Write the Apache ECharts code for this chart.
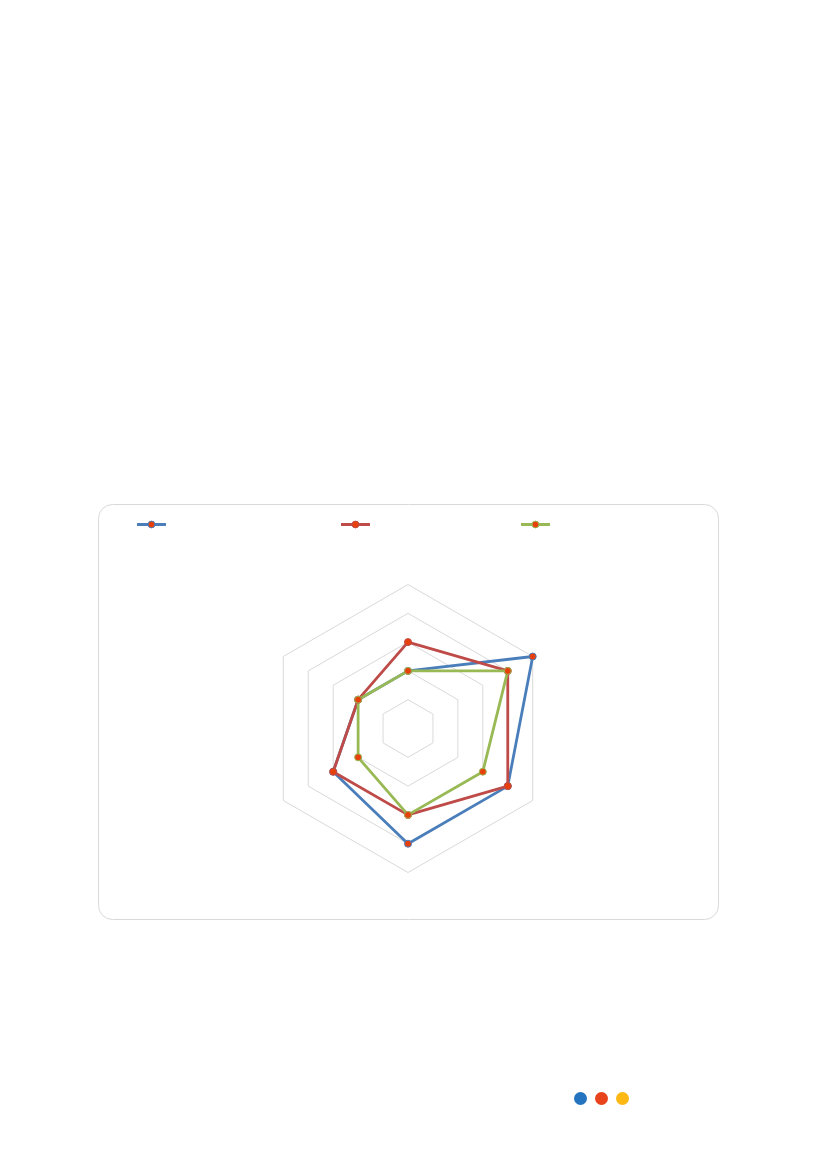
<!DOCTYPE html>
<html><head><meta charset="utf-8">
<script src="https://cdn.jsdelivr.net/npm/echarts@6/dist/echarts.min.js"></script>
<style>html,body{margin:0;padding:0;background:#fff}#c{width:827px;height:1169px}</style>
</head><body><div id="c"></div>
<script>
const indicators = ['A','B','C','D','E','F'];
const seriesNames = ['Series 1','Series 2','Series 3'];
const series1 = [2,2,3,4,4,5];
const series2 = [3,2,3,3,4,4];
const series3 = [2,2,2,3,3,4];
const seriesValues = [series1, series2, series3];
const lineColors = ['#4a7ebb','#be4b48','#98b954'];
const markerColor = '#e8400c';
const maxValue = 5;

function legendIcon(c){
  const svg = '<svg xmlns="http://www.w3.org/2000/svg" width="58" height="18" viewBox="0 0 29 9">'
    + '<line x1="0.5" y1="4.5" x2="28.5" y2="4.5" stroke="'+c+'" stroke-width="2.8" stroke-linecap="round"/>'
    + '<circle cx="14.5" cy="4.5" r="3.4" fill="'+markerColor+'" stroke="'+c+'" stroke-width="1"/></svg>';
  return 'image://data:image/svg+xml;charset=utf-8,' + encodeURIComponent(svg);
}

const chart = echarts.init(document.getElementById('c'), null, {renderer:'canvas'});
const legendLefts = [137, 341, 521];
chart.setOption({
  animation:false,
  backgroundColor:'#fff',
  graphic:[
    {type:'rect', shape:{x:98.5,y:504.5,width:620,height:415,r:14}, style:{fill:'none',stroke:'#d9d9d9',lineWidth:1}, z:-1},
    {type:'circle', shape:{cx:580.5,cy:1098.5,r:6.5}, style:{fill:'#2474bf'}},
    {type:'circle', shape:{cx:601.5,cy:1098.5,r:6.5}, style:{fill:'#e8431a'}},
    {type:'circle', shape:{cx:622.5,cy:1098.5,r:6.5}, style:{fill:'#fdb813'}}
  ],
  legend: seriesNames.map((n,i)=>({
    data:[{name:n, icon:legendIcon(lineColors[i])}], left:legendLefts[i], top:520, padding:0,
    itemWidth:29, itemHeight:9,
    formatter:()=>'', textStyle:{fontSize:1}
  })),
  radar:{
    center:[408,728.5], radius:144, startAngle:90, splitNumber:5, shape:'polygon',
    indicator: indicators.map(n=>({name:n, max:maxValue, min:0})),
    axisName:{show:false},
    axisLine:{show:false}, axisTick:{show:false}, axisLabel:{show:false},
    splitArea:{show:false},
    splitLine:{lineStyle:{color:'#d9d9d9',width:1}}
  },
  series: seriesNames.map((n,i)=>({
    type:'radar', name:n, symbol:'circle', symbolSize:7,
    lineStyle:{color:lineColors[i], width:2.8},
    itemStyle:{color:markerColor, borderColor:lineColors[i], borderWidth:1},
    data:[{value:seriesValues[i], name:n}]
  }))
});
</script></body></html>
